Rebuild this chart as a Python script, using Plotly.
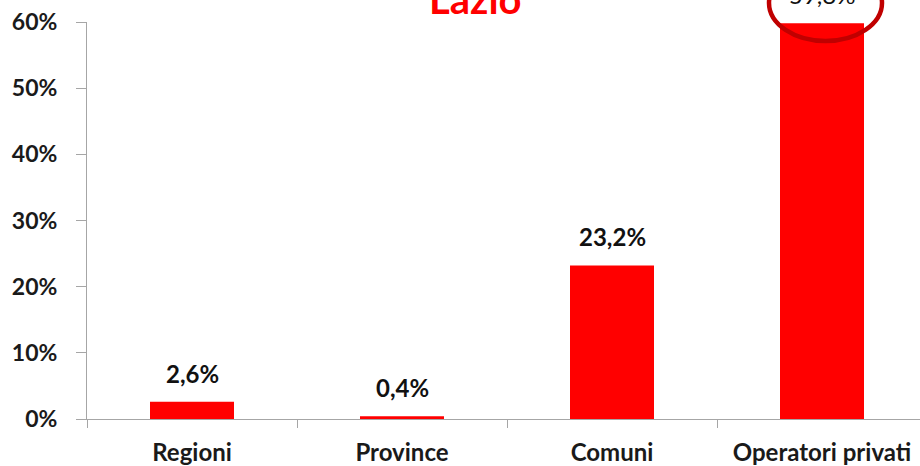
import plotly.graph_objects as go

categories = ["Regioni", "Province", "Comuni", "Operatori privati"]
values = [2.6, 0.4, 23.2, 59.8]
labels = ["2,6%", "0,4%", "23,2%", "59,8%"]
y_ticks = [0, 10, 20, 30, 40, 50, 60]
y_tick_text = ["0%", "10%", "20%", "30%", "40%", "50%", "60%"]
title_text = "Lazio"

W, H = 920, 466
ML, MR, MT, MB = 87, 0, 22, 47
PW, PH = W - ML - MR, H - MT - MB

FONT = "Lato"
RED = "#ff0000"
DARK_RED = "#c00000"
AXIS = "#a6a6a6"
TEXT = "#1a1a1a"

fig = go.Figure()
fig.add_trace(go.Bar(
    x=categories, y=values, marker=dict(color=RED, line=dict(width=0)),
    width=0.4, hoverinfo="skip", showlegend=False,
))

# data labels
for i, (c, v, t) in enumerate(zip(categories, values, labels)):
    last = i == len(categories) - 1
    fig.add_annotation(
        x=c, y=v, text=t, showarrow=False, xanchor="center", yanchor="bottom",
        yshift=12,
        font=dict(family=FONT, size=24, color="#111111",
                  weight="normal" if last else "bold"),
    )

def px_to_paper_x(px):
    return (px - ML) / PW

def px_to_paper_y(py):
    return (H - MB - py) / PH

# highlight ellipse around the last label
fig.add_shape(
    type="circle", xref="paper", yref="paper",
    x0=px_to_paper_x(769), x1=px_to_paper_x(882),
    y0=px_to_paper_y(41), y1=px_to_paper_y(-35),
    line=dict(color=DARK_RED, width=4.5), fillcolor="rgba(0,0,0,0)",
    layer="above",
)

# title
fig.add_annotation(
    xref="paper", yref="paper", x=px_to_paper_x(475.5), y=px_to_paper_y(25),
    text=title_text, showarrow=False, xanchor="center", yanchor="bottom",
    font=dict(family=FONT, size=40, color=RED, weight="bold"),
)

fig.update_layout(
    width=W, height=H, autosize=False,
    margin=dict(l=ML, r=MR, t=MT, b=MB, pad=0),
    plot_bgcolor="white", paper_bgcolor="white",
    bargap=0.6,
    xaxis=dict(
        range=[-0.5, (W - ML) / 210 - 0.5],
        showline=True, linecolor=AXIS, linewidth=1,
        ticks="outside", tickson="boundaries", ticklen=8, tickcolor=AXIS,
        tickfont=dict(family=FONT, size=24, color=TEXT, weight="bold"),
        ticklabelstandoff=12,
        showgrid=False, zeroline=False,
    ),
    yaxis=dict(
        range=[0, 60], tickvals=y_ticks, ticktext=y_tick_text,
        showline=True, linecolor=AXIS, linewidth=1,
        ticks="outside", ticklen=10, tickcolor=AXIS,
        tickfont=dict(family=FONT, size=23, color=TEXT, weight="bold"),
        ticklabelstandoff=14,
        showgrid=False, zeroline=False,
    ),
)

fig.write_html("out.html", config={"displayModeBar": False},
               post_script="document.body.style.margin='0';")
